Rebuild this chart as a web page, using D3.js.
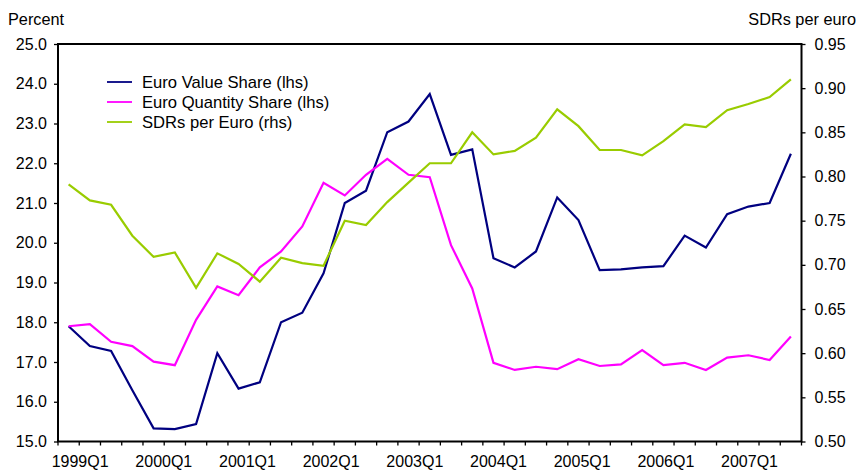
<!DOCTYPE html>
<html>
<head>
<meta charset="utf-8">
<script src="https://cdn.jsdelivr.net/npm/d3@7"></script>
<style>
    body { margin: 0; background: #fff; }
    svg { display: block; font-family: "Liberation Sans", Arial, sans-serif; }
</style>
</head>
<body>
<svg id="chart" width="858" height="472"></svg>
<script>
// quarters 1999Q1 .. 2007Q3
const years = [1999, 2000, 2001, 2002, 2003, 2004, 2005, 2006, 2007];
const quarters = [];
years.forEach(y => [1, 2, 3, 4].forEach(q => quarters.push(y + 'Q' + q)));
quarters.splice(35);

const xLabels = ['1999Q1', '2000Q1', '2001Q1', '2002Q1', '2003Q1', '2004Q1', '2005Q1', '2006Q1', '2007Q1'];

const valueShare = [
    17.90, 17.40, 17.28, 16.29, 15.33, 15.31, 15.44, 17.22, 16.33, 16.49,
    18.00, 18.24, 19.23, 21.00, 21.31, 22.78, 23.05, 23.74, 22.21, 22.35,
    19.61, 19.38, 19.78, 21.14, 20.57, 19.31, 19.33, 19.38, 19.41, 20.18,
    19.88, 20.72, 20.91, 21.00, 22.24
];
const quantityShare = [
    17.90, 17.95, 17.51, 17.40, 17.01, 16.92, 18.06, 18.90, 18.68, 19.38,
    19.78, 20.41, 21.51, 21.19, 21.71, 22.11, 21.71, 21.65, 19.94, 18.85,
    16.98, 16.80, 16.88, 16.82, 17.07, 16.90, 16.94, 17.30, 16.92, 16.98,
    16.80, 17.11, 17.17, 17.05, 17.64
];
const sdrPerEuro = [
    0.791, 0.773, 0.768, 0.733, 0.709, 0.714, 0.674, 0.713, 0.701, 0.681,
    0.708, 0.702, 0.699, 0.750, 0.745, 0.771, 0.793, 0.815, 0.815, 0.850,
    0.825, 0.829, 0.844, 0.876, 0.857, 0.830, 0.830, 0.824, 0.840, 0.859,
    0.856, 0.875, 0.882, 0.890, 0.910
];

const leftTicks = [15, 16, 17, 18, 19, 20, 21, 22, 23, 24, 25];
const rightTicks = [0.50, 0.55, 0.60, 0.65, 0.70, 0.75, 0.80, 0.85, 0.90, 0.95];

const series = [
    {name: 'Euro Value Share (lhs)', values: valueShare, color: '#000080', axis: 'left'},
    {name: 'Euro Quantity Share (lhs)', values: quantityShare, color: '#ff00ff', axis: 'left'},
    {name: 'SDRs per Euro (rhs)', values: sdrPerEuro, color: '#99cc00', axis: 'right'},
];

const box = {left: 58, right: 801.5, top: 44, bottom: 441.5};
const svg = d3.select('#chart');

const x = d3.scaleBand().domain(quarters).range([box.left, box.right]);
const yL = d3.scaleLinear().domain([15, 25]).range([box.bottom, box.top]);
const yR = d3.scaleLinear().domain([0.5, 0.95]).range([box.bottom, box.top]);
const cx = q => x(q) + x.bandwidth() / 2;

// left axis
const leftAxis = svg.append('g')
    .attr('transform', 'translate(' + box.left + ',0)')
    .call(d3.axisLeft(yL).tickValues(leftTicks).tickFormat(d3.format('.1f')).tickSize(4).tickPadding(7));

// right axis
const rightAxis = svg.append('g')
    .attr('transform', 'translate(' + box.right + ',0)')
    .call(d3.axisRight(yR).tickValues(rightTicks).tickFormat(d3.format('.2f')).tickSize(4).tickPadding(9));

// bottom axis: ticks between quarters, labels drawn separately
const bottomAxis = svg.append('g')
    .attr('transform', 'translate(0,' + box.bottom + ')');
const tickPos = quarters.map(q => x(q)).concat([box.right]);
bottomAxis.selectAll('line.tick')
    .data(tickPos)
    .enter().append('line')
    .attr('x1', d => d).attr('x2', d => d)
    .attr('y1', 0).attr('y2', 4)
    .attr('stroke', '#000').attr('stroke-width', 1.3);

[leftAxis, rightAxis].forEach(a => {
    a.select('.domain').remove();
    a.selectAll('.tick line').attr('stroke', '#000').attr('stroke-width', 1.3);
    a.selectAll('.tick text').attr('font-size', 16).attr('fill', '#000')
        .attr('font-family', '"Liberation Sans", Arial, sans-serif');
});

// x labels drift slightly left of the quarter tick like the original
const labelShift = d3.scaleLinear().domain([0, quarters.length - 1]).range([11.5, 0.5]);
svg.append('g').selectAll('text')
    .data(xLabels)
    .enter().append('text')
    .attr('x', d => cx(d) + labelShift(quarters.indexOf(d)))
    .attr('y', 467)
    .attr('text-anchor', 'middle')
    .attr('font-size', 16)
    .text(d => d);

// frame
svg.append('rect')
    .attr('x', box.left).attr('y', box.top)
    .attr('width', box.right - box.left).attr('height', box.bottom - box.top)
    .attr('fill', 'none').attr('stroke', '#000').attr('stroke-width', 2);

// lines
series.forEach(s => {
    const y = s.axis === 'left' ? yL : yR;
    const line = d3.line()
        .x((d, i) => cx(quarters[i]))
        .y(d => y(d));
    svg.append('path')
        .datum(s.values)
        .attr('d', line)
        .attr('fill', 'none')
        .attr('stroke', s.color)
        .attr('stroke-width', 2.2)
        .attr('stroke-linejoin', 'miter');
});

// axis titles
svg.append('text').attr('x', 8).attr('y', 25).attr('font-size', 16.3).text('Percent');
svg.append('text').attr('x', 856).attr('y', 25).attr('font-size', 16.3)
    .attr('text-anchor', 'end').text('SDRs per euro');

// legend
const legend = svg.append('g');
series.forEach((s, i) => {
    const ly = 82 + i * 20;
    legend.append('line')
        .attr('x1', 107).attr('x2', 132)
        .attr('y1', ly).attr('y2', ly)
        .attr('stroke', s.color).attr('stroke-width', 1.8);
    legend.append('text')
        .attr('x', 142).attr('y', ly + 6)
        .attr('font-size', 16.6)
        .text(s.name);
});
</script>
</body>
</html>
